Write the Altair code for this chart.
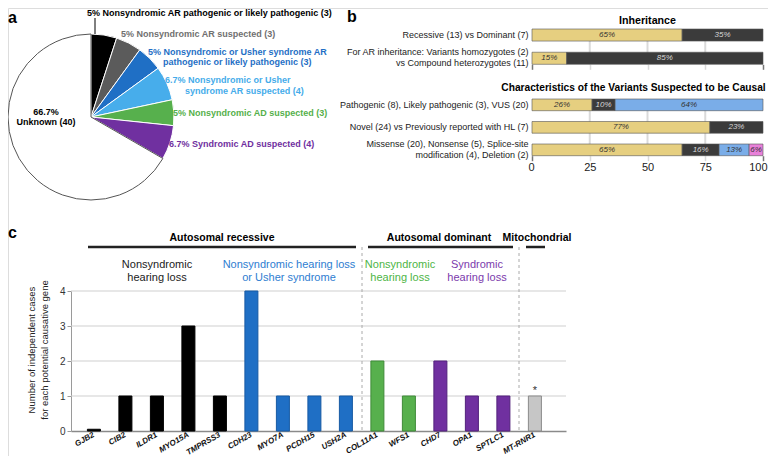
import altair as alt
import pandas as pd

FONT = "Liberation Sans"
W, H = 760, 448

# ---------------- panel a : pie ----------------
pie_cats = ["NS AR P/LP", "NS AR suspected", "NS/Usher AR P/LP",
            "NS/Usher AR suspected", "NS AD suspected", "Syndromic AD suspected", "Unknown"]
pie_counts = [3, 3, 3, 4, 3, 4, 40]
pie_colors = ["#000000", "#5b5b5b", "#1f6fc5", "#47adeb", "#57b04d", "#7030a0", "#ffffff"]

# ---------------- panel b : stacked percentage bars ----------------
seg_names = ["first", "second", "third", "fourth"]
seg_colors = ["#e6cf80", "#3b3b3b", "#7aade8", "#e880d9"]
b1_rows = ["Recessive (13) vs Dominant (7)",
           "For AR inheritance: Variants homozygotes (2)|vs Compound heterozygotes (11)"]
b1_pcts = [[65, 35], [15, 85]]
b2_rows = ["Pathogenic (8), Likely pathogenic (3), VUS (20)",
           "Novel (24) vs Previously reported with HL (7)",
           "Missense (20), Nonsense (5), Splice-site|modification (4), Deletion (2)"]
b2_pcts = [[26, 10, 64], [77, 23], [65, 16, 13, 6]]
b_ticks = [0, 25, 50, 75, 100]
b_grid = [25, 50, 75]

# ---------------- panel c : genes ----------------
genes = ["GJB2", "CIB2", "ILDR1", "MYO15A", "TMPRSS3", "CDH23", "MYO7A", "PCDH15",
         "USH2A", "COL11A1", "WFS1", "CHD7", "OPA1", "SPTLC1", "MT-RNR1"]
cases = [0.05, 1, 1, 3, 1, 4, 1, 1, 1, 2, 1, 2, 1, 1, 1]
gene_group = ["AR NS"] * 5 + ["AR NS/Usher"] * 4 + ["AD NS"] * 2 + ["AD S"] * 3 + ["Mito"]
groups = ["AR NS", "AR NS/Usher", "AD NS", "AD S", "Mito"]
group_fill = ["#000000", "#1f6fc5", "#57b04d", "#7030a0", "#c6c6c6"]
group_stroke = ["#000000", "#175aa3", "#3f8a38", "#52217c", "#8a8a8a"]
c_ticks = [0, 1, 2, 3, 4]
c_grid = [1, 2, 3, 4]

one = pd.DataFrame({"k": [0]})


def txt(s, x, y, size=9, color="#000000", weight="normal", align="left",
        style="normal", angle=0, baseline="middle"):
    kw = dict(align=align, baseline=baseline, fontSize=size, fill=color,
              fontWeight=weight, fontStyle=style)
    if angle:
        kw["angle"] = angle
    return alt.Chart(one).mark_text(**kw).encode(
        x=alt.value(x), y=alt.value(y), text=alt.value(s))


def line(x1, y1, x2, y2, color, width, dash=None):
    kw = dict(color=color, strokeWidth=width)
    if dash:
        kw["strokeDash"] = dash
    return alt.Chart(one).mark_rule(**kw).encode(
        x=alt.value(x1), y=alt.value(y1), x2=alt.value(x2), y2=alt.value(y2))


# ---- pie
pie_df = pd.DataFrame({"cat": pie_cats, "n": pie_counts, "k": list(range(len(pie_cats)))})
pie = alt.Chart(pie_df).mark_arc(outerRadius=83, strokeWidth=1).encode(
    theta=alt.Theta("n:Q", stack=True),
    color=alt.Color("cat:N", scale=alt.Scale(domain=pie_cats, range=pie_colors), legend=None),
    order=alt.Order("k:Q"),
    stroke=alt.condition(alt.datum.cat == "Unknown", alt.value("#555555"), alt.value("#ffffff")),
    x=alt.value(83), y=alt.value(109),
)

a_layers = [
    pie,
    line(87, 10, 87, 26, "#000000", 1),
    txt("a", 0, 2, size=16, weight="bold", baseline="top"),
    txt("5% Nonsyndromic AR pathogenic or likely pathogenic (3)", 79, 4.5, weight="bold"),
    txt("5% Nonsyndromic AR suspected (3)", 113, 26, weight="bold", color="#707070"),
    txt("5% Nonsyndromic or Usher syndrome AR", 140, 44, weight="bold", color="#1f6fc5"),
    txt("pathogenic or likely pathogenic (3)", 155, 54, weight="bold", color="#1f6fc5"),
    txt("6.7% Nonsyndromic or Usher", 157, 72, weight="bold", color="#45acea"),
    txt("syndrome AR suspected (4)", 177, 83, weight="bold", color="#45acea"),
    txt("5% Nonsyndromic AD suspected (3)", 165, 105, weight="bold", color="#55b04b"),
    txt("6.7% Syndromic AD suspected (4)", 161, 136, weight="bold", color="#7030a0"),
    txt("66.7%", 38, 104, weight="bold", align="center"),
    txt("Unknown (40)", 38, 114, weight="bold", align="center"),
]

# ---- panel b
tick_color = {"condition": {"test": "datum.value == 0 || datum.value == 100", "value": "#777777"},
              "value": "#dadada"}
label_baseline = {"condition": {"test": "indexof(datum.label, '|') >= 0", "value": "line-bottom"},
                  "value": "middle"}


def b_panel(rows, pcts, y0, y1, pad_inner, show_labels):
    recs = []
    for r, vals in zip(rows, pcts):
        start = 0
        for k, v in enumerate(vals):
            recs.append({"row": r, "k": k, "seg": seg_names[k], "start": start,
                         "end": start + v, "mid": start + v / 2, "lab": f"{v}%"})
            start += v
    df = pd.DataFrame(recs)
    xs = alt.Scale(domain=[0, 100], range=[524, 755], nice=False, zero=False)
    xaxis = alt.Axis(orient="bottom", offset=y1 - H, values=b_ticks, labels=show_labels,
                     ticks=True, tickSize=5, tickWidth=1.5, tickColor=tick_color, domain=False,
                     grid=False, title=None, labelFontSize=11, labelColor="#222222",
                     labelPadding=1, labelFlush=True, labelFlushOffset=4)
    ys = alt.Scale(domain=rows, range=[y0, y1], paddingInner=pad_inner, paddingOuter=0)
    yaxis = alt.Axis(orient="left", offset=-524, domain=False, ticks=False, grid=False,
                     title=None, labelPadding=4, labelFontSize=9, labelColor="#222222",
                     labelLimit=400, labelExpr="split(datum.label, '|')", labelLineHeight=11,
                     labelBaseline=label_baseline)
    grid = alt.Chart(pd.DataFrame({"v": b_grid})).mark_rule(color="#dadada", strokeWidth=2).encode(
        x=alt.X("v:Q", scale=xs, axis=xaxis), y=alt.value(y0), y2=alt.value(y1))
    bars = alt.Chart(df).mark_bar(stroke="#555555", strokeWidth=0.6).encode(
        x=alt.X("start:Q", scale=xs, axis=xaxis), x2="end:Q",
        y=alt.Y("row:N", scale=ys, axis=yaxis),
        color=alt.Color("seg:N", scale=alt.Scale(domain=seg_names, range=seg_colors), legend=None))
    labels = alt.Chart(df).mark_text(fontSize=8, fontStyle="italic").encode(
        x=alt.X("mid:Q", scale=xs, axis=xaxis),
        y=alt.Y("row:N", scale=ys, axis=yaxis),
        text="lab:N",
        color=alt.condition(alt.datum.k == 1, alt.value("#d8d8d8"), alt.value("#333333")))
    return alt.layer(grid, bars, labels)


b1 = b_panel(b1_rows, b1_pcts, 21, 56.3, 0.48, False)
b2 = b_panel(b2_rows, b2_pcts, 91, 147.7, 0.48, True)

b_layers = [
    b1, b2,
    txt("b", 339, 1, size=16, weight="bold", baseline="top"),
    txt("Inheritance", 639.5, 12.7, size=10.7, weight="bold", align="center"),
    txt("Characteristics of the Variants Suspected to be Causal", 625.5, 80.3, size=10.2,
        weight="bold", align="center"),
]

# ---- panel c
cdf = pd.DataFrame({"gene": genes, "n": cases, "grp": gene_group})
cx = alt.Scale(domain=genes, range=[63, 558], paddingInner=0.587, paddingOuter=0.651, align=0.4)
cy = alt.Scale(domain=[0, 4], range=[423, 283], nice=False, zero=True)
cxaxis = alt.Axis(orient="bottom", offset=423 - H, domainColor="#8a8a8a", domainWidth=1.5,
                  ticks=False, labelAngle=-30, labelFontSize=8, labelFontStyle="italic",
                  labelFontWeight="bold", labelColor="#111111", labelPadding=3,
                  labelAlign="right", labelBaseline="middle", title=None, grid=False)
cyaxis = alt.Axis(orient="left", offset=-63, values=c_ticks, domainColor="#9a9a9a",
                  tickColor="#9a9a9a", tickSize=4, labelFontSize=10, labelColor="#333333",
                  labelPadding=2, title=None, grid=False)
cgrid = alt.Chart(pd.DataFrame({"v": c_grid})).mark_rule(color="#cfcfcf", strokeWidth=1).encode(
    y=alt.Y("v:Q", scale=cy, axis=cyaxis), x=alt.value(63), x2=alt.value(558))
cbars = alt.Chart(cdf).mark_bar(strokeWidth=1).encode(
    x=alt.X("gene:N", scale=cx, axis=cxaxis),
    y=alt.Y("n:Q", scale=cy, axis=cyaxis),
    color=alt.Color("grp:N", scale=alt.Scale(domain=groups, range=group_fill), legend=None),
    stroke=alt.Stroke("grp:N", scale=alt.Scale(domain=groups, range=group_stroke), legend=None))
star = alt.Chart(cdf).transform_filter(alt.datum.gene == "MT-RNR1").mark_text(
    dy=-5, fontSize=11, fill="#333333").encode(
    x=alt.X("gene:N", scale=cx, axis=cxaxis), y=alt.Y("n:Q", scale=cy, axis=cyaxis),
    text=alt.value("*"))
c_panel = alt.layer(cgrid, cbars, star)

c_layers = [
    c_panel,
    txt("c", 0, 230, size=16, weight="bold", baseline="alphabetic"),
    txt("Number of independent cases", 24, 342, size=9.5, color="#222222", align="center", angle=270),
    txt("for each potential causative gene", 37, 342, size=9.5, color="#222222", align="center", angle=270),
    txt("Autosomal recessive", 214, 230, size=10.5, weight="bold", align="center"),
    txt("Autosomal dominant", 431, 230, size=10.5, weight="bold", align="center"),
    txt("Mitochondrial", 529, 230, size=10.5, weight="bold", align="center"),
    line(80, 239, 348, 239, "#222222", 2.5),
    line(360, 239, 505, 239, "#222222", 2.5),
    line(518, 239, 537, 239, "#222222", 2.5),
    line(354, 239, 354, 423, "#aaaaaa", 1, [3, 3]),
    line(511, 239, 511, 423, "#aaaaaa", 1, [3, 3]),
    txt("Nonsyndromic", 149, 257, size=11, color="#222222", align="center"),
    txt("hearing loss", 149, 270, size=11, color="#222222", align="center"),
    txt("Nonsyndromic hearing loss", 281, 257, size=11, color="#2e7dd1", align="center"),
    txt("or Usher syndrome", 281, 270, size=11, color="#2e7dd1", align="center"),
    txt("Nonsyndromic", 392, 257, size=11, color="#4db545", align="center"),
    txt("hearing loss", 392, 270, size=11, color="#4db545", align="center"),
    txt("Syndromic", 469, 257, size=11, color="#7b3aac", align="center"),
    txt("hearing loss", 469, 270, size=11, color="#7b3aac", align="center"),
]

chart = alt.layer(*a_layers, *b_layers, *c_layers).resolve_scale(
    x="independent", y="independent", color="independent", stroke="independent",
    theta="independent"
).resolve_axis(
    x="independent", y="independent"
).properties(
    width=W, height=H, autosize=alt.AutoSizeParams(type="none"), padding=0
).configure_view(stroke=None).configure(font=FONT)

chart.save("out.html", embed_options={"renderer": "svg", "actions": False})
